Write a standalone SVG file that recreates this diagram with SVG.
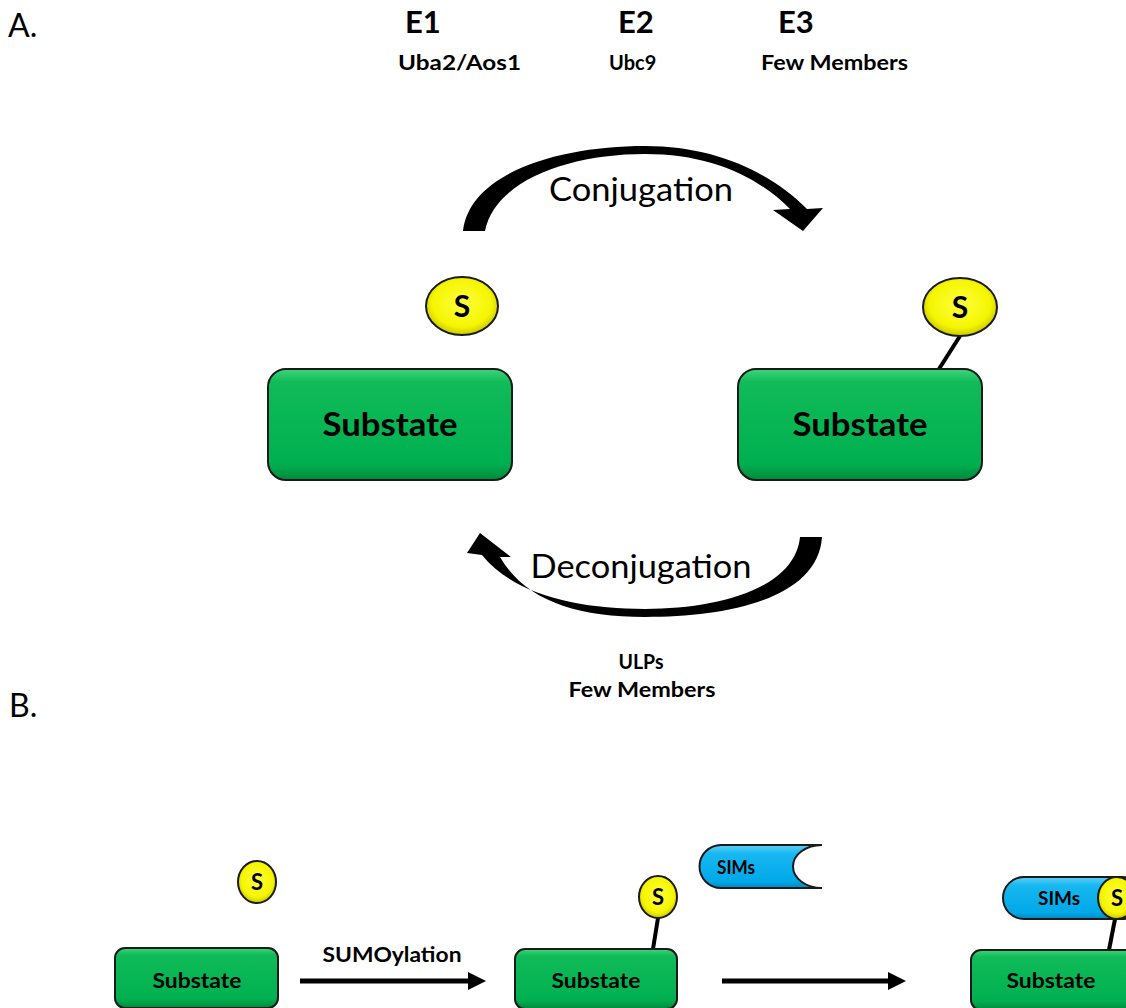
<svg xmlns="http://www.w3.org/2000/svg" width="1126" height="1008" viewBox="0 0 1126 1008">
  <defs>
    <linearGradient id="gGreen" x1="0" y1="0" x2="0" y2="1">
      <stop offset="0" stop-color="#3fd47a"/>
      <stop offset="0.12" stop-color="#10bb58"/>
      <stop offset="0.85" stop-color="#00b050"/>
      <stop offset="1" stop-color="#008a3c"/>
    </linearGradient>
    <radialGradient id="gYellow" cx="0.5" cy="0.45" r="0.55">
      <stop offset="0" stop-color="#ffff40"/>
      <stop offset="0.75" stop-color="#f5f500"/>
      <stop offset="1" stop-color="#c8c800"/>
    </radialGradient>
    <linearGradient id="gBlue" x1="0" y1="0" x2="0" y2="1">
      <stop offset="0" stop-color="#5fd0f8"/>
      <stop offset="0.2" stop-color="#18b8f0"/>
      <stop offset="0.85" stop-color="#00a8e8"/>
      <stop offset="1" stop-color="#0088c0"/>
    </linearGradient>
  </defs>
  <style>
    .lbl { font-family: Lato, "Open Sans", "Liberation Sans", sans-serif; fill: #000; }
    .b { font-weight: bold; }
    .box { fill: url(#gGreen); stroke: #1a1a1a; stroke-width: 2; }
    .sumo { fill: url(#gYellow); stroke: #1a1a1a; stroke-width: 2; }
    .sim { fill: url(#gBlue); stroke: #1a1a1a; stroke-width: 2; }
    .link { stroke: #000; stroke-width: 4; }
    .shaft { stroke: #000; stroke-width: 5; fill: none; }
  </style>

  <!-- panel letters -->
  <text class="lbl" x="8" y="37" font-size="32">A.</text>
  <text class="lbl" x="9" y="717" font-size="32">B.</text>

  <!-- enzyme headings -->
  <g id="enzymes">
    <text class="lbl b" x="405" y="33" font-size="31">E1</text>
    <text class="lbl b" x="398" y="70" font-size="20" textLength="123" lengthAdjust="spacingAndGlyphs">Uba2/Aos1</text>
    <text class="lbl b" x="618" y="33" font-size="31">E2</text>
    <text class="lbl b" x="609" y="70" font-size="20">Ubc9</text>
    <text class="lbl b" x="778" y="33" font-size="31">E3</text>
    <text class="lbl b" x="761" y="70" font-size="20" textLength="147" lengthAdjust="spacingAndGlyphs">Few Members</text>
  </g>

  <!-- cycle arrows and links -->
  <g id="connectors">
    <path id="conj-arrow" d="M463,231 C470,172 560,146 645,146 C715,146 770,172 807,209 L823,208 L803,231 L773,210 L790,209 C757,176 710,154 645,154 C570,154 495,180 485,231 Z" fill="#000"/>
    <path id="deconj-arrow" d="M822,537 C818,598 730,617 645,617 C575,617 525,600 500,557 L511,557 L480,533 L467,553 L482,555 C515,596 580,609 645,609 C720,609 795,588 800,537 Z" fill="#000"/>
    <line class="link" x1="960" y1="336" x2="939" y2="369"/>
    <line class="link" x1="658" y1="918" x2="653" y2="949"/>
    <line class="link" x1="1115" y1="919" x2="1109" y2="950"/>
    <line class="shaft" x1="300" y1="981" x2="472" y2="981"/>
    <polygon points="468,972 486,981 468,990" fill="#000"/>
    <line class="shaft" x1="722" y1="981" x2="892" y2="981"/>
    <polygon points="888,972 906,981 888,990" fill="#000"/>
  </g>

  <text class="lbl" x="641" y="201" font-size="32" text-anchor="middle" textLength="184" lengthAdjust="spacingAndGlyphs">Conjugation</text>
  <text class="lbl" x="641" y="578" font-size="32" text-anchor="middle" textLength="221" lengthAdjust="spacingAndGlyphs">Deconjugation</text>
  <text class="lbl b" x="641" y="669" font-size="20" text-anchor="middle" textLength="45" lengthAdjust="spacingAndGlyphs">ULPs</text>
  <text class="lbl b" x="642" y="697" font-size="20" text-anchor="middle" textLength="147" lengthAdjust="spacingAndGlyphs">Few Members</text>

  <!-- panel A nodes -->
  <g id="sumo-free-a">
    <ellipse class="sumo" cx="462" cy="306" rx="36" ry="29"/>
    <text class="lbl b" x="462" y="317" font-size="30" text-anchor="middle">S</text>
  </g>
  <g id="substrate-a1">
    <rect class="box" x="268" y="369" width="244" height="111" rx="18"/>
    <text class="lbl b" x="390" y="436" font-size="33" text-anchor="middle" textLength="135" lengthAdjust="spacingAndGlyphs">Substate</text>
  </g>
  <g id="sumo-bound-a">
    <ellipse class="sumo" cx="960" cy="307" rx="37" ry="29"/>
    <text class="lbl b" x="960" y="318" font-size="30" text-anchor="middle">S</text>
  </g>
  <g id="substrate-a2">
    <rect class="box" x="738" y="369" width="244" height="111" rx="18"/>
    <text class="lbl b" x="860" y="436" font-size="33" text-anchor="middle" textLength="135" lengthAdjust="spacingAndGlyphs">Substate</text>
  </g>

  <!-- panel B nodes -->
  <g id="sumo-free-b">
    <ellipse class="sumo" cx="257" cy="882" rx="19" ry="21"/>
    <text class="lbl b" x="257" y="890" font-size="22" text-anchor="middle">S</text>
  </g>
  <g id="substrate-b1">
    <rect class="box" x="115" y="948" width="163" height="60" rx="10"/>
    <text class="lbl b" x="197" y="988" font-size="21" text-anchor="middle" textLength="89" lengthAdjust="spacingAndGlyphs">Substate</text>
  </g>
  <text class="lbl b" x="392" y="962" font-size="20" text-anchor="middle" textLength="139" lengthAdjust="spacingAndGlyphs">SUMOylation</text>

  <g id="sumo-bound-b">
    <ellipse class="sumo" cx="658" cy="897" rx="19" ry="21"/>
    <text class="lbl b" x="658" y="905" font-size="22" text-anchor="middle">S</text>
  </g>
  <g id="substrate-b2">
    <rect class="box" x="515" y="949" width="162" height="60" rx="10"/>
    <text class="lbl b" x="596" y="988" font-size="21" text-anchor="middle" textLength="89" lengthAdjust="spacingAndGlyphs">Substate</text>
  </g>
  <g id="sims-b">
    <path class="sim" d="M822,845 L721,845 A21.5,21.5 0 0 0 721,888 L822,888 A29,21.5 0 0 1 822,845 Z"/>
    <text class="lbl b" x="736" y="874" font-size="18" text-anchor="middle" textLength="38" lengthAdjust="spacingAndGlyphs">SIMs</text>
  </g>

  <g id="substrate-b3">
    <rect class="box" x="971" y="950" width="170" height="60" rx="10"/>
    <text class="lbl b" x="1051" y="988" font-size="21" text-anchor="middle" textLength="89" lengthAdjust="spacingAndGlyphs">Substate</text>
  </g>
  <g id="sims-sumo-b3">
    <rect class="sim" x="1003" y="877" width="140" height="42" rx="21"/>
    <text class="lbl b" x="1059" y="905" font-size="18" text-anchor="middle" textLength="42" lengthAdjust="spacingAndGlyphs">SIMs</text>
    <ellipse class="sumo" cx="1117" cy="898" rx="19" ry="21"/>
    <text class="lbl b" x="1117" y="906" font-size="22" text-anchor="middle">S</text>
  </g>
</svg>
